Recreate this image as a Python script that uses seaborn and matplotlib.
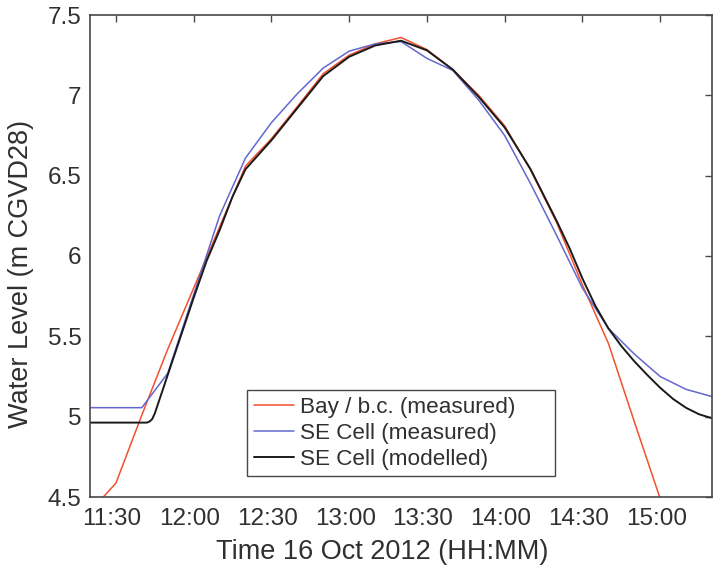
import matplotlib
matplotlib.use("Agg")
import matplotlib.pyplot as plt
import matplotlib.dates as mdates
from matplotlib.ticker import FuncFormatter
from matplotlib.transforms import ScaledTranslation
import pandas as pd
import seaborn as sns

# Water levels on 16 Oct 2012 (m CGVD28)
bay_times = ["11:20", "11:30", "11:40", "11:50", "12:00", "12:10", "12:20", "12:30",
             "12:40", "12:50", "13:00", "13:10", "13:20", "13:30", "13:40", "13:50",
             "14:00", "14:10", "14:20", "14:30", "14:40", "14:50", "15:00", "15:10"]
bay_level = [4.41, 4.586, 5.01, 5.42, 5.80, 6.18, 6.56, 6.73,
             6.93, 7.135, 7.25, 7.32, 7.36, 7.285, 7.16, 7.00,
             6.81, 6.535, 6.21, 5.82, 5.457, 4.97, 4.49, 4.00]

cell_meas_times = ["11:20", "11:30", "11:40", "11:50", "12:00", "12:10", "12:20", "12:30",
                   "12:40", "12:50", "13:00", "13:10", "13:20", "13:30", "13:40", "13:50",
                   "14:00", "14:10", "14:20", "14:30", "14:40", "14:50", "15:00", "15:10",
                   "15:20"]
cell_meas_level = [5.056, 5.056, 5.056, 5.27, 5.76, 6.25, 6.61, 6.83,
                   7.01, 7.17, 7.275, 7.32, 7.335, 7.23, 7.155, 6.97,
                   6.75, 6.45, 6.13, 5.80, 5.55, 5.39, 5.25, 5.17,
                   5.125]

cell_model_times = ["11:20", "11:42", "11:43", "11:44", "11:45", "11:50", "11:55", "12:00",
                    "12:05", "12:10", "12:15", "12:20", "12:30", "12:40", "12:50", "13:00",
                    "13:10", "13:20", "13:30", "13:40", "13:50", "14:00", "14:10", "14:20",
                    "14:25", "14:30", "14:35", "14:40", "14:45", "14:50", "14:55", "15:00",
                    "15:05", "15:10", "15:15", "15:20"]
cell_model_level = [4.963, 4.963, 4.970, 4.985, 5.02, 5.26, 5.50, 5.74,
                    5.97, 6.16, 6.37, 6.54, 6.72, 6.92, 7.12, 7.24,
                    7.31, 7.34, 7.28, 7.16, 6.99, 6.80, 6.54, 6.22,
                    6.05, 5.86, 5.69, 5.55, 5.44, 5.345, 5.26, 5.18,
                    5.11, 5.055, 5.015, 4.99]

series_labels = ["Bay / b.c. (measured)", "SE Cell (measured)", "SE Cell (modelled)"]
y_ticks = [4.5, 5.0, 5.5, 6.0, 6.5, 7.0, 7.5]
x_ticks = ["11:30", "12:00", "12:30", "13:00", "13:30", "14:00", "14:30", "15:00"]
x_limits = ["11:20", "15:20"]

DAY = "2012-10-16 "


def stamp(times):
    return pd.to_datetime([DAY + t for t in times])


bay = pd.DataFrame({"time": stamp(bay_times), "level": bay_level})
cell_meas = pd.DataFrame({"time": stamp(cell_meas_times), "level": cell_meas_level})
cell_model = pd.DataFrame({"time": stamp(cell_model_times), "level": cell_model_level})

sns.set_style("white")
plt.rcParams["font.family"] = ["Liberation Sans", "DejaVu Sans"]

TEXT = "#303030"
AXIS = "#484848"

fig = plt.figure(figsize=(7.18, 5.71), dpi=100)
ax = fig.add_axes([90 / 718, 1 - 497 / 571, 622 / 718, 482 / 571])

sns.lineplot(data=bay, x="time", y="level", ax=ax, color="#f2502e", lw=1.1,
             label=series_labels[0])
sns.lineplot(data=cell_meas, x="time", y="level", ax=ax, color="#6467cf", lw=1.1,
             label=series_labels[1])
sns.lineplot(data=cell_model, x="time", y="level", ax=ax, color="#1a1a1a", lw=1.4,
             label=series_labels[2])

ax.set_xlim(pd.to_datetime(DAY + x_limits[0]), pd.to_datetime(DAY + x_limits[1]))
ax.set_ylim(y_ticks[0], y_ticks[-1])
ax.set_yticks(y_ticks)
ax.yaxis.set_major_formatter(FuncFormatter(lambda v, _: f"{v:g}"))
ax.set_xticks(stamp(x_ticks))
ax.xaxis.set_major_formatter(mdates.DateFormatter("%H:%M"))

for side in ["left", "right", "top", "bottom"]:
    ax.spines[side].set_visible(True)
    ax.spines[side].set_color(AXIS)
    ax.spines[side].set_linewidth(1.2)

ax.tick_params(axis="both", direction="in", top=True, right=True, length=5,
               width=1.0, color=AXIS, labelsize=17.5, labelcolor=TEXT)
ax.tick_params(axis="x", pad=8)
ax.tick_params(axis="y", pad=6)

ax.set_xlabel("Time 16 Oct 2012 (HH:MM)", fontsize=19.5, color=TEXT)
ax.set_ylabel("Water Level (m CGVD28)", fontsize=19.5, color=TEXT)
ax.xaxis.set_label_coords((382 - 90) / 622, (497 - 539) / 482)
ax.yaxis.set_label_coords((34 - 90) / 622, (497 - 274) / 482)

leg = ax.legend(loc="upper left",
                bbox_to_anchor=((247 - 90) / 622, (497 - 478) / 482,
                                (555 - 247) / 622, (478 - 390) / 482),
                mode="expand", borderaxespad=0, fontsize=16.2, frameon=True,
                fancybox=False, edgecolor=AXIS, framealpha=1, handlelength=1.8,
                handletextpad=0.25, labelspacing=0.22, borderpad=0.3)
leg.get_frame().set_linewidth(1.0)
for t in leg.get_texts():
    t.set_color(TEXT)

# tick labels sit a little left of their ticks
fig.canvas.draw()
shift = ScaledTranslation(-4 / 100, 0, fig.dpi_scale_trans)
for lab in ax.get_xticklabels():
    lab.set_transform(lab.get_transform() + shift)

fig.savefig("out.png", dpi=100)
